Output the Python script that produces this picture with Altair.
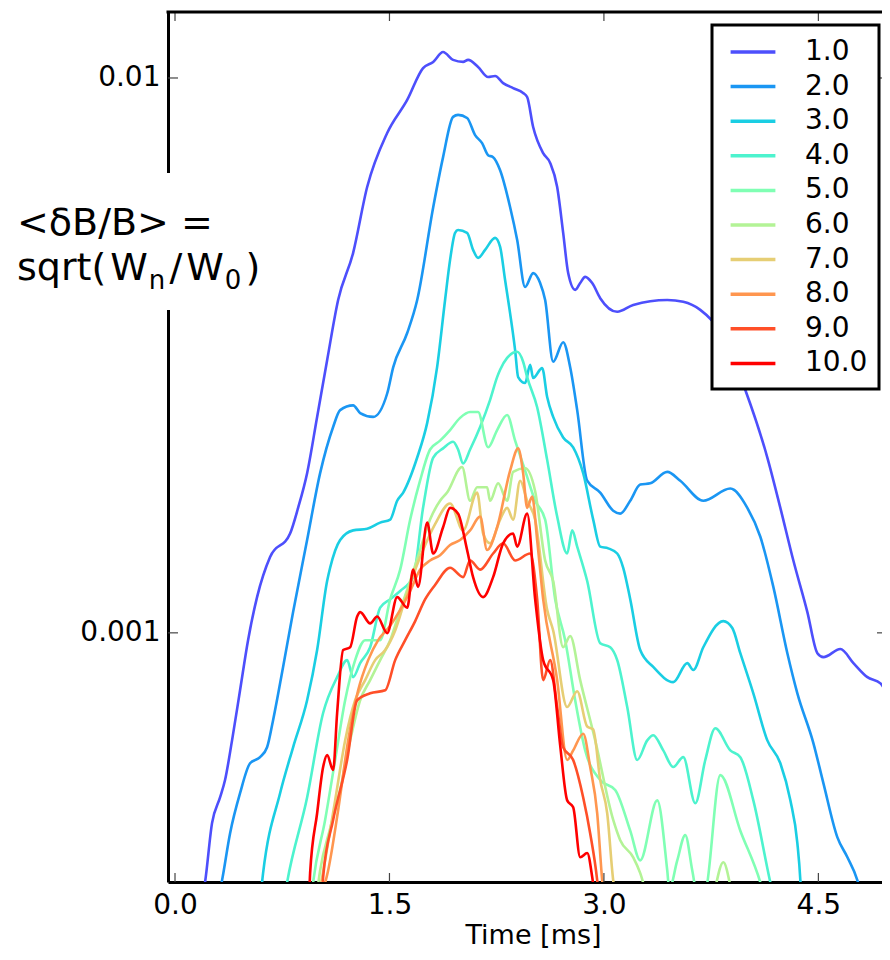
import altair as alt
import pandas as pd

labels = ["1.0", "2.0", "3.0", "4.0", "5.0", "6.0", "7.0", "8.0", "9.0", "10.0"]
colors = ["#4d4ffc", "#1a96f3", "#1acee3", "#4df3ce", "#80ffb4",
          "#b3f396", "#e6ce74", "#ff964f", "#ff4f28", "#ff0000"]

# (time [ms], <dB/B>)
s1 = [(0.189, 3.30e-4), (0.210, 3.55e-4), (0.259, 4.54e-4), (0.315, 5.05e-4), (0.350, 5.43e-4),
      (0.399, 6.40e-4), (0.455, 7.88e-4), (0.511, 9.70e-4), (0.574, 1.16e-3), (0.665, 1.37e-3),
      (0.805, 1.51e-3), (0.861, 1.68e-3), (0.924, 1.94e-3), (0.994, 2.45e-3), (1.064, 3.10e-3),
      (1.141, 3.98e-3), (1.246, 4.84e-3), (1.344, 6.36e-3), (1.484, 7.96e-3), (1.624, 9.13e-3),
      (1.735, 1.042e-2), (1.806, 1.069e-2), (1.875, 1.114e-2), (1.945, 1.078e-2), (2.015, 1.069e-2),
      (2.050, 1.078e-2), (2.120, 1.047e-2), (2.190, 1.004e-2), (2.239, 1.008e-2), (2.295, 9.79e-3),
      (2.365, 9.59e-3), (2.435, 9.40e-3), (2.463, 9.24e-3), (2.505, 8.16e-3), (2.575, 7.32e-3),
      (2.624, 7.03e-3), (2.673, 6.36e-3), (2.715, 5.26e-3), (2.750, 4.45e-3), (2.799, 4.15e-3),
      (2.834, 4.27e-3), (2.869, 4.38e-3), (2.918, 4.27e-3), (2.974, 4.01e-3), (3.093, 3.79e-3),
      (3.205, 3.90e-3), (3.443, 3.98e-3), (3.555, 3.95e-3), (3.674, 3.82e-3), (3.828, 3.45e-3),
      (3.989, 2.74e-3), (4.143, 2.07e-3), (4.234, 1.68e-3), (4.325, 1.35e-3), (4.423, 1.09e-3),
      (4.493, 9.19e-4), (4.535, 9.04e-4), (4.654, 9.35e-4), (4.745, 8.82e-4), (4.843, 8.32e-4),
      (4.934, 8.11e-4), (5.003, 7.56e-4)]
s2 = [(0.301, 3.30e-4), (0.329, 3.58e-4), (0.385, 4.35e-4), (0.455, 5.14e-4), (0.525, 5.82e-4),
      (0.595, 5.97e-4), (0.644, 6.22e-4), (0.686, 6.96e-4), (0.756, 8.68e-4), (0.826, 1.09e-3),
      (0.924, 1.47e-3), (1.015, 1.94e-3), (1.106, 2.35e-3), (1.155, 2.52e-3), (1.246, 2.57e-3),
      (1.295, 2.49e-3), (1.386, 2.45e-3), (1.484, 2.70e-3), (1.526, 3.01e-3), (1.624, 3.47e-3),
      (1.694, 3.98e-3), (1.806, 5.85e-3), (1.875, 7.20e-3), (1.945, 8.51e-3), (1.980, 8.58e-3),
      (2.043, 8.47e-3), (2.099, 7.89e-3), (2.148, 7.63e-3), (2.190, 7.26e-3), (2.225, 7.20e-3),
      (2.274, 6.82e-3), (2.344, 5.85e-3), (2.393, 5.11e-3), (2.449, 4.20e-3), (2.505, 4.45e-3),
      (2.554, 4.27e-3), (2.589, 3.98e-3), (2.645, 3.08e-3), (2.715, 3.34e-3), (2.764, 3.01e-3),
      (2.813, 2.52e-3), (2.883, 1.88e-3), (2.974, 1.79e-3), (3.065, 1.66e-3), (3.114, 1.64e-3),
      (3.184, 1.73e-3), (3.254, 1.85e-3), (3.324, 1.86e-3), (3.443, 1.95e-3), (3.534, 1.88e-3),
      (3.695, 1.73e-3), (3.884, 1.82e-3), (4.003, 1.68e-3), (4.094, 1.49e-3), (4.185, 1.21e-3),
      (4.283, 9.19e-4), (4.353, 7.78e-4), (4.465, 6.33e-4), (4.535, 5.36e-4), (4.633, 4.28e-4),
      (4.703, 3.94e-4), (4.773, 3.58e-4), (4.808, 3.30e-4)]
s3 = [(0.595, 3.30e-4), (0.616, 3.69e-4), (0.735, 5.14e-4), (0.826, 6.22e-4), (0.924, 7.56e-4),
      (0.994, 9.31e-4), (1.064, 1.24e-3), (1.085, 1.31e-3), (1.155, 1.47e-3), (1.246, 1.53e-3),
      (1.344, 1.54e-3), (1.435, 1.58e-3), (1.505, 1.60e-3), (1.554, 1.73e-3), (1.596, 1.79e-3),
      (1.694, 2.07e-3), (1.764, 2.39e-3), (1.833, 3.01e-3), (1.889, 3.98e-3), (1.924, 4.70e-3),
      (1.959, 5.26e-3), (1.980, 5.32e-3), (2.043, 5.26e-3), (2.085, 4.90e-3), (2.120, 4.74e-3),
      (2.169, 4.90e-3), (2.239, 5.15e-3), (2.274, 4.96e-3), (2.309, 4.32e-3), (2.330, 3.98e-3),
      (2.379, 3.23e-3), (2.400, 2.89e-3), (2.449, 2.82e-3), (2.484, 3.04e-3), (2.505, 2.88e-3),
      (2.568, 3.00e-3), (2.603, 2.66e-3), (2.645, 2.45e-3), (2.715, 2.25e-3), (2.785, 2.16e-3),
      (2.855, 1.94e-3), (2.925, 1.60e-3), (2.974, 1.43e-3), (3.030, 1.42e-3), (3.093, 1.39e-3),
      (3.135, 1.31e-3), (3.184, 1.15e-3), (3.254, 9.31e-4), (3.345, 8.68e-4), (3.485, 8.15e-4),
      (3.583, 8.82e-4), (3.625, 8.57e-4), (3.695, 9.42e-4), (3.835, 1.05e-3), (3.898, 1.02e-3),
      (3.954, 9.19e-4), (4.045, 7.78e-4), (4.143, 6.40e-4), (4.234, 5.82e-4), (4.304, 4.99e-4),
      (4.353, 4.18e-4), (4.374, 3.58e-4), (4.381, 3.30e-4)]
s4 = [(0.763, 3.30e-4), (0.784, 3.55e-4), (0.924, 5.05e-4), (1.036, 7.17e-4), (1.134, 8.32e-4),
      (1.204, 8.93e-4), (1.246, 8.32e-4), (1.295, 8.82e-4), (1.365, 9.42e-4), (1.435, 1.11e-3),
      (1.505, 1.15e-3), (1.575, 1.19e-3), (1.666, 1.26e-3), (1.735, 1.68e-3), (1.806, 2.07e-3),
      (1.875, 2.15e-3), (1.945, 2.21e-3), (1.980, 2.14e-3), (2.015, 2.02e-3), (2.064, 2.14e-3),
      (2.134, 2.35e-3), (2.204, 2.63e-3), (2.253, 2.89e-3), (2.274, 2.98e-3), (2.323, 3.13e-3),
      (2.393, 3.21e-3), (2.435, 3.08e-3), (2.463, 2.89e-3), (2.533, 2.55e-3), (2.603, 2.05e-3),
      (2.673, 1.62e-3), (2.743, 1.39e-3), (2.778, 1.53e-3), (2.813, 1.43e-3), (2.883, 1.24e-3),
      (2.974, 9.58e-4), (3.044, 9.42e-4), (3.093, 8.93e-4), (3.163, 7.35e-4), (3.233, 5.90e-4),
      (3.303, 6.40e-4), (3.345, 6.54e-4), (3.415, 6.14e-4), (3.485, 5.73e-4), (3.555, 5.97e-4),
      (3.639, 4.93e-4), (3.709, 5.90e-4), (3.779, 6.73e-4), (3.884, 6.14e-4), (3.954, 5.97e-4),
      (4.045, 4.99e-4), (4.164, 3.55e-4), (4.192, 3.30e-4)]
s5 = [(0.952, 3.30e-4), (0.966, 3.55e-4), (1.050, 4.60e-4), (1.120, 5.90e-4), (1.190, 7.56e-4),
      (1.260, 8.93e-4), (1.330, 9.70e-4), (1.435, 9.70e-4), (1.505, 1.15e-3), (1.575, 1.30e-3),
      (1.645, 1.60e-3), (1.714, 1.88e-3), (1.784, 2.14e-3), (1.854, 2.22e-3), (1.924, 2.32e-3),
      (1.994, 2.44e-3), (2.064, 2.50e-3), (2.120, 2.50e-3), (2.190, 2.16e-3), (2.253, 2.32e-3),
      (2.323, 2.47e-3), (2.379, 2.22e-3), (2.449, 1.96e-3), (2.519, 1.73e-3), (2.589, 1.60e-3),
      (2.659, 1.15e-3), (2.729, 9.70e-4), (2.799, 7.56e-4), (2.869, 6.14e-4), (2.974, 5.43e-4),
      (3.079, 5.21e-4), (3.184, 4.40e-4), (3.254, 3.89e-4), (3.373, 4.99e-4), (3.443, 3.73e-4),
      (3.457, 3.45e-4), (3.513, 3.89e-4), (3.569, 4.32e-4), (3.618, 3.73e-4), (3.660, 3.30e-4),
      (3.709, 3.40e-4), (3.814, 5.54e-4), (3.954, 4.40e-4), (4.094, 3.55e-4), (4.129, 3.30e-4)]
s6 = [(0.987, 3.30e-4), (1.015, 3.73e-4), (1.085, 4.44e-4), (1.155, 5.21e-4), (1.225, 6.40e-4),
      (1.295, 7.56e-4), (1.365, 8.22e-4), (1.435, 8.93e-4), (1.505, 9.70e-4), (1.575, 1.10e-3),
      (1.645, 1.24e-3), (1.714, 1.41e-3), (1.784, 1.60e-3), (1.854, 1.73e-3), (1.903, 1.79e-3),
      (2.008, 1.99e-3), (2.064, 1.73e-3), (2.113, 1.83e-3), (2.183, 1.83e-3), (2.204, 1.73e-3),
      (2.260, 1.86e-3), (2.323, 1.73e-3), (2.365, 1.95e-3), (2.449, 1.98e-3), (2.519, 1.80e-3),
      (2.589, 1.35e-3), (2.645, 1.24e-3), (2.715, 9.42e-4), (2.764, 9.87e-4), (2.834, 8.22e-4),
      (2.939, 6.40e-4), (3.065, 4.60e-4), (3.114, 4.23e-4), (3.205, 3.94e-4), (3.254, 3.69e-4),
      (3.310, 3.30e-4), (3.604, 2.60e-4), (3.758, 3.30e-4), (3.835, 3.86e-4), (3.898, 3.37e-4),
      (3.954, 2.90e-4)]
s7 = [(1.001, 3.30e-4), (1.050, 3.89e-4), (1.120, 4.99e-4), (1.190, 6.40e-4), (1.260, 7.56e-4),
      (1.330, 8.22e-4), (1.400, 8.93e-4), (1.470, 9.31e-4), (1.540, 1.01e-3), (1.610, 1.15e-3),
      (1.680, 1.30e-3), (1.750, 1.44e-3), (1.819, 1.57e-3), (1.924, 1.71e-3), (2.015, 1.53e-3),
      (2.113, 1.79e-3), (2.155, 1.51e-3), (2.204, 1.45e-3), (2.274, 1.60e-3), (2.323, 1.68e-3),
      (2.365, 1.60e-3), (2.414, 1.88e-3), (2.463, 1.73e-3), (2.519, 1.60e-3), (2.603, 1.10e-3),
      (2.645, 1.01e-3), (2.743, 7.35e-4), (2.813, 7.85e-4), (2.883, 6.78e-4), (2.925, 6.70e-4),
      (2.974, 5.43e-4), (3.023, 4.73e-4), (3.065, 3.58e-4), (3.086, 3.30e-4)]
s8 = [(1.015, 3.30e-4), (1.071, 3.73e-4), (1.141, 4.79e-4), (1.211, 6.40e-4), (1.281, 7.88e-4),
      (1.351, 8.93e-4), (1.421, 9.70e-4), (1.505, 1.03e-3), (1.575, 1.10e-3), (1.645, 1.19e-3),
      (1.714, 1.30e-3), (1.784, 1.35e-3), (1.854, 1.38e-3), (1.924, 1.44e-3), (1.994, 1.47e-3),
      (2.064, 1.53e-3), (2.134, 1.62e-3), (2.183, 1.41e-3), (2.253, 1.55e-3), (2.344, 1.96e-3),
      (2.400, 2.15e-3), (2.435, 1.94e-3), (2.463, 1.68e-3), (2.498, 1.76e-3), (2.533, 1.47e-3),
      (2.575, 1.15e-3), (2.673, 8.22e-4), (2.743, 5.90e-4), (2.785, 6.14e-4), (2.855, 6.58e-4),
      (2.904, 5.73e-4), (2.953, 4.73e-4), (2.988, 3.58e-4), (3.002, 3.30e-4)]
s9 = [(1.029, 3.30e-4), (1.036, 3.63e-4), (1.106, 4.60e-4), (1.204, 5.90e-4), (1.274, 7.56e-4),
      (1.365, 7.78e-4), (1.470, 7.88e-4), (1.540, 8.93e-4), (1.610, 9.70e-4), (1.680, 1.05e-3),
      (1.750, 1.15e-3), (1.819, 1.22e-3), (1.924, 1.31e-3), (2.015, 1.26e-3), (2.064, 1.35e-3),
      (2.134, 1.30e-3), (2.225, 1.39e-3), (2.295, 1.45e-3), (2.379, 1.35e-3), (2.484, 1.39e-3),
      (2.533, 1.15e-3), (2.575, 8.22e-4), (2.624, 8.93e-4), (2.673, 7.35e-4), (2.715, 6.22e-4),
      (2.785, 5.90e-4), (2.855, 5.05e-4), (2.904, 4.35e-4), (2.953, 3.58e-4), (2.967, 3.30e-4)]
s10 = [(0.938, 3.30e-4), (0.945, 3.69e-4), (0.994, 4.73e-4), (1.036, 5.73e-4), (1.064, 6.02e-4),
       (1.106, 5.66e-4), (1.134, 7.17e-4), (1.176, 9.31e-4), (1.225, 9.42e-4), (1.274, 1.07e-3),
       (1.295, 1.09e-3), (1.365, 1.04e-3), (1.414, 1.07e-3), (1.484, 9.99e-4), (1.554, 1.16e-3),
       (1.624, 1.11e-3), (1.666, 1.30e-3), (1.700, 1.21e-3), (1.764, 1.58e-3), (1.806, 1.39e-3),
       (1.875, 1.55e-3), (1.924, 1.68e-3), (1.980, 1.64e-3), (2.043, 1.41e-3), (2.085, 1.26e-3),
       (2.155, 1.16e-3), (2.225, 1.26e-3), (2.295, 1.45e-3), (2.365, 1.51e-3), (2.393, 1.43e-3),
       (2.463, 1.64e-3), (2.519, 1.15e-3), (2.575, 8.93e-4), (2.645, 8.22e-4), (2.694, 6.27e-4),
       (2.743, 4.99e-4), (2.785, 4.85e-4), (2.834, 3.94e-4), (2.883, 4.01e-4), (2.918, 3.63e-4),
       (2.939, 3.30e-4)]

series = [s1, s2, s3, s4, s5, s6, s7, s8, s9, s10]
x_ticks = [0.0, 1.5, 3.0, 4.5]
y_ticks = [0.001, 0.01]
x_domain = [-0.049, 4.945]
y_domain = [3.556e-4, 1.315e-2]

rows = []
for k, (lab, s) in enumerate(zip(labels, series)):
    for i, (t, v) in enumerate(s):
        rows.append({"n": lab, "k": k, "i": i, "t": t, "v": v})
df = pd.DataFrame(rows)

W, H = 714, 870
FONT = "DejaVu Sans"

xs = alt.Scale(domain=x_domain, nice=False, zero=False)
ys = alt.Scale(type="log", domain=y_domain, nice=False)

lines = alt.Chart(df).mark_line(clip=True, strokeWidth=2.6, interpolate="monotone").encode(
    x=alt.X("t:Q", scale=xs, axis=alt.Axis(values=x_ticks, format=".1f", ticks=False, grid=False,
                                           domainColor="black", domainWidth=3, labelFont=FONT,
                                           labelFontSize=28, labelColor="black", labelPadding=9,
                                           title="Time [ms]", titleFont=FONT, titleFontSize=27,
                                           titleFontWeight="normal", titleColor="black",
                                           titleX=365, titleY=61, titleBaseline="alphabetic",
                                           titleAlign="center")),
    y=alt.Y("v:Q", scale=ys, axis=alt.Axis(values=y_ticks, format=".3~f", ticks=False, grid=False,
                                           domainColor="black", domainWidth=3, labelFont=FONT,
                                           labelFontSize=28, labelColor="black", labelPadding=8,
                                           title=None)),
    color=alt.Color("n:N", sort=labels, scale=alt.Scale(domain=labels, range=colors),
                    legend=alt.Legend(title=None, orient="none", legendX=544, legendY=13,
                                      symbolType="M-1.6,0H1.6", symbolSize=784,
                                      symbolStrokeWidth=3.5,
                                      symbolOffset=14, labelFont=FONT, labelFontSize=28,
                                      labelColor="black", labelOffset=36, padding=11,
                                      rowPadding=4.6, fillColor="white", strokeColor="black")),
    order="i:Q",
    detail="k:N",
)

ytick_df = pd.DataFrame({"v": y_ticks})
xtick_df = pd.DataFrame({"t": x_ticks})
tick_style = dict(color="#444444", strokeWidth=1.2)
ytl = alt.Chart(ytick_df).mark_rule(**tick_style).encode(y=alt.Y("v:Q", scale=ys), x=alt.value(0), x2=alt.value(10))
ytr = alt.Chart(ytick_df).mark_rule(**tick_style).encode(y=alt.Y("v:Q", scale=ys), x=alt.value(W - 5), x2=alt.value(W))
xtb = alt.Chart(xtick_df).mark_rule(**tick_style).encode(x=alt.X("t:Q", scale=xs), y=alt.value(H - 9), y2=alt.value(H))
xtt = alt.Chart(xtick_df).mark_rule(**tick_style).encode(x=alt.X("t:Q", scale=xs), y=alt.value(0), y2=alt.value(9))

one = pd.DataFrame({"a": [0]})
top_spine = alt.Chart(one).mark_rule(color="black", strokeWidth=3).encode(
    x=alt.value(-1.5), x2=alt.value(W + 2), y=alt.value(0))

cover = alt.Chart(one).mark_rect(color="white").encode(
    x=alt.value(-160), x2=alt.value(110), y=alt.value(161), y2=alt.value(298))

BIG, SUB = 38, 26
def big_text(s, x, y, size=BIG):
    return alt.Chart(one).mark_text(align="left", baseline="alphabetic", font=FONT,
                                    fontSize=size, color="black", text=s).encode(
        x=alt.value(x), y=alt.value(y))

x0 = -151
gap = 4
w_sqrt = 2.349 * BIG
w_W = 0.989 * BIG
w_sub = 0.64 * SUB
w_slash = 0.337 * BIG
xa = x0 + w_sqrt + gap          # W
xb = xa + w_W + 1               # n
xc = xb + w_sub + gap           # /
xd = xc + w_slash + gap         # W
xe = xd + w_W + 1               # 0
xf = xe + w_sub + gap           # )
txt = [
    big_text("<δB/B> =", x0, 223),
    big_text("sqrt(", x0, 268),
    big_text("W", xa, 268),
    big_text("n", xb, 277, SUB),
    big_text("/", xc, 268),
    big_text("W", xd, 268),
    big_text("0", xe, 277, SUB),
    big_text(")", xf, 268),
]

chart = alt.layer(lines, ytl, ytr, xtb, xtt, top_spine, cover, *txt).properties(
    width=W, height=H,
    autosize=alt.AutoSizeParams(type="none"),
    padding={"left": 160, "top": 4, "right": 0, "bottom": 70},
).configure_view(stroke=None).configure_legend(strokeWidth=3)

chart.save("out.html", embed_options={"renderer": "svg", "actions": False})
